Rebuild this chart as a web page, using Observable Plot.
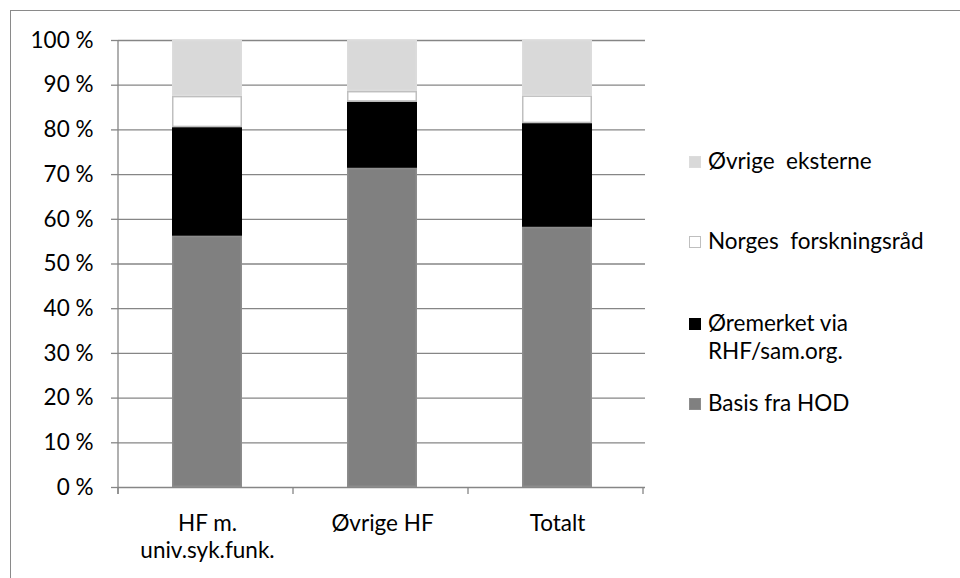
<!DOCTYPE html>
<html>
<head>
<meta charset="utf-8">
<script src="https://cdn.jsdelivr.net/npm/d3@7"></script>
<script src="https://cdn.jsdelivr.net/npm/@observablehq/plot@0.6"></script>
<style>
  html, body { margin: 0; padding: 0; background: #fff; }
  #wrap { position: relative; width: 960px; height: 578px; overflow: hidden; font-family: Lato, sans-serif; color: #000; }
  #frame { position: absolute; left: 10px; top: 10px; width: 960px; height: 600px; border-left: 1.5px solid #8a8a8a; border-top: 1.5px solid #8a8a8a; }
  #chart { position: absolute; left: 0; top: 0; }
  .legend { position: absolute; left: 689px; top: 0; font-size: 22.5px; line-height: 28px; }
  .item { position: absolute; left: 0; display: flex; align-items: flex-start; white-space: pre; }
  .sw { width: 12px; height: 12px; box-sizing: border-box; margin-top: 9px; margin-right: 7px; flex: none; }
</style>
</head>
<body>
<div id="wrap">
  <div id="frame"></div>
  <div id="chart"></div>
  <div class="legend" id="legend"></div>
</div>
<script>
// Categories along the x axis
const categories = ["HF m.\nuniv.syk.funk.", "Øvrige HF", "Totalt"];

// Funding sources, bottom of the stack first
const series = ["Basis fra HOD", "Øremerket via\nRHF/sam.org.", "Norges  forskningsråd", "Øvrige  eksterne"];

// Shares (%) per category, in category order
const basisFraHOD = [56.2, 71.4, 58.2];
const oremerket = [24.3, 14.8, 23.2];
const forskningsrad = [7.0, 2.4, 6.2];
const ovrigeEksterne = [12.5, 11.4, 12.4];

// Y tick values
const yTicks = [0, 10, 20, 30, 40, 50, 60, 70, 80, 90, 100];

const fills = ["#808080", "#000000", "#ffffff", "#d9d9d9"];
const strokes = ["#8c8c8c", "#000000", "#bfbfbf", "#dcdcdc"];

const seriesValues = [basisFraHOD, oremerket, forskningsrad, ovrigeEksterne];
const rows = [];
series.forEach((s, i) => {
  categories.forEach((c, j) => rows.push({category: c, source: s, value: seriesValues[i][j]}));
});

const chart = Plot.plot({
  width: 960,
  height: 578,
  marginLeft: 118,
  marginRight: 315,
  marginTop: 40,
  marginBottom: 91,
  style: {fontFamily: "Lato, sans-serif", fontSize: "22.5px", color: "#000", background: "transparent"},
  x: {domain: categories, paddingInner: 0.6, paddingOuter: 0.3, label: null},
  y: {domain: [0, 100], label: null},
  color: {domain: series, range: fills},
  marks: [
    Plot.ruleY(yTicks, {stroke: "#868686", strokeWidth: 1.3, strokeOpacity: 1}),
    Plot.barY(rows, Plot.stackY({
      x: "category",
      y: "value",
      fill: "source",
      stroke: d => strokes[series.indexOf(d.source)],
      strokeWidth: 1.5,
      inset: 0.75
    })),
    Plot.axisY(yTicks, {
      tickSize: 7,
      tickPadding: 18,
      tickFormat: d => `${d} %`,
      stroke: "#868686",
      strokeWidth: 1.3,
      fill: "#000",
      fontSize: 22.5
    }),
    Plot.axisX({
      tickSize: 0,
      tickPadding: 24,
      lineHeight: 1.22,
      fill: "#000",
      fontSize: 22.5
    })
  ]
});
document.getElementById("chart").appendChild(chart);

// Y axis line and category boundary ticks, placed with the x and y scales
const xs = chart.scale("x");
const ys = chart.scale("y");
const step = xs.step;
const x0 = xs.range[0];
const yBase = ys.apply(0);
const yTop = ys.apply(100);
const svg = d3.select(chart);
const g = svg.append("g").attr("stroke", "#868686").attr("stroke-width", 1.3);
g.append("line").attr("x1", x0).attr("x2", x0).attr("y1", yTop).attr("y2", yBase + 7);
d3.range(categories.length + 1).forEach(i => {
  const x = x0 + i * step;
  g.append("line").attr("x1", x).attr("x2", x).attr("y1", yBase).attr("y2", yBase + 7);
});

// Legend, top entry first
const legendTops = [147, 227, 309, 389];
const legend = document.getElementById("legend");
[3, 2, 1, 0].forEach((i, k) => {
  const item = document.createElement("div");
  item.className = "item";
  item.style.top = legendTops[k] + "px";
  const sw = document.createElement("span");
  sw.className = "sw";
  sw.style.background = fills[i];
  sw.style.border = `1.5px solid ${strokes[i]}`;
  const label = document.createElement("span");
  label.textContent = series[i];
  item.appendChild(sw);
  item.appendChild(label);
  legend.appendChild(item);
});
</script>
</body>
</html>
